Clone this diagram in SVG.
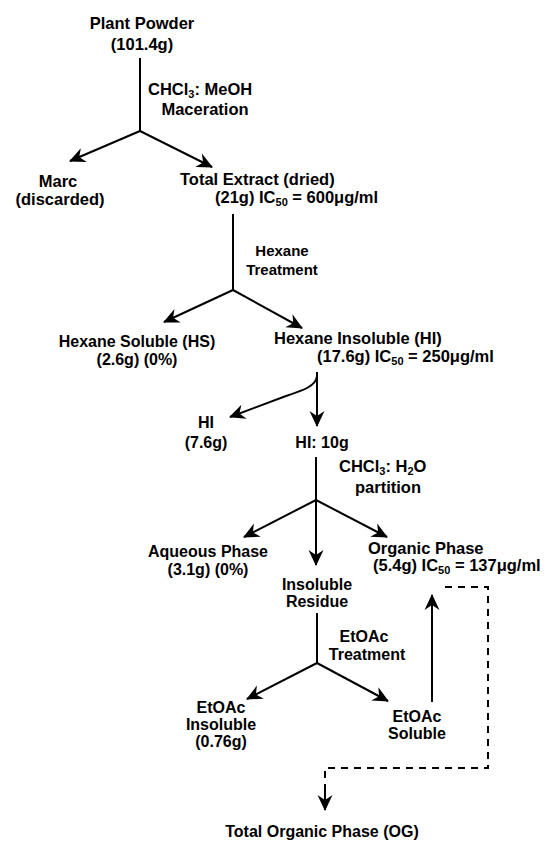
<svg xmlns="http://www.w3.org/2000/svg" width="558" height="848" viewBox="0 0 558 848">
<style>
text{font-family:"Liberation Sans",Arial,sans-serif;font-weight:bold;fill:#000}
.a{font-size:16.5px}
.b{font-size:16px}
.c{font-size:15px}
.m{text-anchor:middle}
.s{font-size:11px}
.ln{fill:none;stroke:#000;stroke-width:2}
.ar{marker-end:url(#ah)}
.ds{fill:none;stroke:#000;stroke-width:2;stroke-dasharray:7 6}
</style>
<defs>
<marker id="ah" viewBox="-16 -8 18 16" refX="0" refY="0" markerWidth="18" markerHeight="16" markerUnits="userSpaceOnUse" orient="auto">
<path d="M1,0 L-15,-7.5 L-10,0 L-15,7.5 Z" fill="#000"/>
</marker>
</defs>
<rect width="558" height="848" fill="#fff"/>
<g id="connectors">
<line class="ln" x1="140" y1="58" x2="140" y2="131"/>
<line class="ln ar" x1="140" y1="131" x2="70" y2="161"/>
<line class="ln ar" x1="140" y1="131" x2="212" y2="167"/>
<line class="ln" x1="233" y1="214" x2="233" y2="290"/>
<line class="ln ar" x1="233" y1="290" x2="164" y2="322"/>
<line class="ln ar" x1="233" y1="290" x2="302" y2="328"/>
<line class="ln ar" x1="317" y1="372" x2="317" y2="426"/>
<path class="ln ar" d="M317,376 C316,386 304,390 286,396 L230,417"/>
<line class="ln" x1="316" y1="457" x2="316" y2="500"/>
<line class="ln ar" x1="316" y1="500" x2="244" y2="537"/>
<line class="ln ar" x1="316" y1="500" x2="387" y2="537"/>
<line class="ln ar" x1="316" y1="500" x2="316" y2="565"/>
<line class="ln" x1="317" y1="613" x2="317" y2="663"/>
<line class="ln ar" x1="317" y1="663" x2="247" y2="699"/>
<line class="ln ar" x1="317" y1="663" x2="388" y2="701"/>
<line class="ln ar" x1="432" y1="702" x2="432" y2="595"/>
<path class="ds" d="M445,587 H488 V768 H325 V790"/>
<line class="ln ar" x1="325" y1="790" x2="325" y2="810"/>
</g>
<g id="plant-powder">
<text class="a m" x="142" y="29">Plant Powder</text>
<text class="a m" x="142" y="50">(101.4g)</text>
</g>
<g id="maceration-label">
<text class="a" x="148" y="95">CHCl<tspan class="s" dy="3">3</tspan><tspan dy="-3">: MeOH</tspan></text>
<text class="a m" x="205" y="115">Maceration</text>
</g>
<g id="marc">
<text class="a m" x="58" y="187">Marc</text>
<text class="a m" x="60" y="205">(discarded)</text>
</g>
<g id="total-extract">
<text class="a" x="180" y="185">Total Extract (dried)</text>
<text class="a" x="215" y="203">(21g) IC<tspan class="s" dy="3">50</tspan><tspan dy="-3"> = 600μg/ml</tspan></text>
</g>
<g id="hexane-label">
<text class="c m" x="282" y="256">Hexane</text>
<text class="c m" x="282" y="275">Treatment</text>
</g>
<g id="hexane-soluble">
<text class="b m" x="137" y="347">Hexane Soluble (HS)</text>
<text class="b m" x="137" y="365">(2.6g) (0%)</text>
</g>
<g id="hexane-insoluble">
<text class="a" x="274" y="344">Hexane Insoluble (HI)</text>
<text class="a" x="317" y="362">(17.6g) IC<tspan class="s" dy="3">50</tspan><tspan dy="-3"> = 250μg/ml</tspan></text>
</g>
<g id="hi-7-6">
<text class="b m" x="206" y="428">HI</text>
<text class="b m" x="206" y="448">(7.6g)</text>
</g>
<g id="hi-10">
<text class="b m" x="322" y="448">HI: 10g</text>
</g>
<g id="partition-label">
<text class="a" x="339" y="472">CHCl<tspan class="s" dy="3">3</tspan><tspan dy="-3">: H</tspan><tspan class="s" dy="3">2</tspan><tspan dy="-3">O</tspan></text>
<text class="a m" x="388" y="493">partition</text>
</g>
<g id="aqueous-phase">
<text class="b m" x="208" y="557">Aqueous Phase</text>
<text class="b m" x="208" y="575">(3.1g) (0%)</text>
</g>
<g id="insoluble-residue">
<text class="b m" x="317" y="590">Insoluble</text>
<text class="b m" x="317" y="607">Residue</text>
</g>
<g id="organic-phase">
<text class="a" x="368" y="554">Organic Phase</text>
<text class="a" x="373" y="571">(5.4g) IC<tspan class="s" dy="3">50</tspan><tspan dy="-3"> = 137μg/ml</tspan></text>
</g>
<g id="etoac-label">
<text class="b m" x="364" y="642">EtOAc</text>
<text class="b m" x="367" y="660">Treatment</text>
</g>
<g id="etoac-insoluble">
<text class="b m" x="221" y="713">EtOAc</text>
<text class="b m" x="221" y="730">Insoluble</text>
<text class="b m" x="221" y="747">(0.76g)</text>
</g>
<g id="etoac-soluble">
<text class="b m" x="417" y="722">EtOAc</text>
<text class="b m" x="417" y="739">Soluble</text>
</g>
<g id="total-organic-phase">
<text class="b m" x="322" y="837">Total Organic Phase (OG)</text>
</g>
</svg>
